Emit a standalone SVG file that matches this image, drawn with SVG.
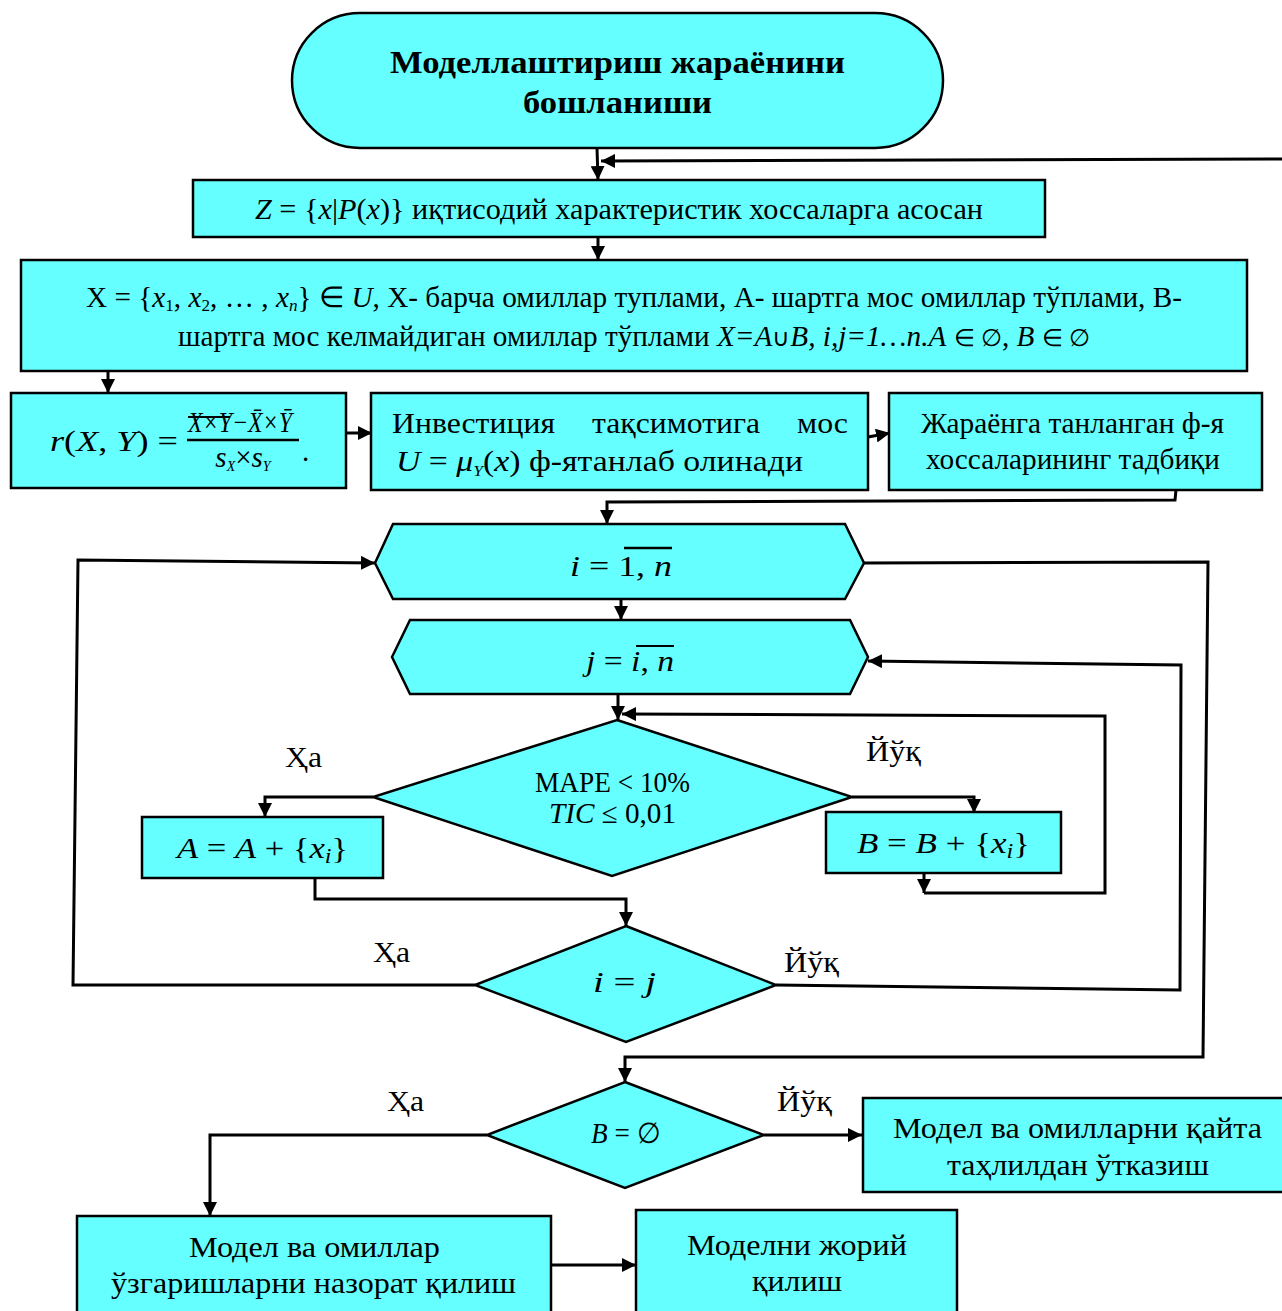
<svg xmlns="http://www.w3.org/2000/svg" width="1282" height="1311" viewBox="0 0 1282 1311">
<style>
.n{fill:#66FFFF;stroke:#000;stroke-width:2.5}
.c{fill:none;stroke:#000;stroke-width:3}
.t{font-family:"Liberation Serif",serif;font-size:29px;fill:#000}
.b{font-weight:bold;font-size:32px}
.mi{font-style:italic}
.ol{stroke:#000;stroke-width:2}
</style>
<defs>
<marker id="ah" viewBox="0 0 10 10" refX="10" refY="5" markerWidth="14" markerHeight="14" markerUnits="userSpaceOnUse" orient="auto"><path d="M0,0 L10,5 L0,10 z" fill="#000"/></marker>
</defs>
<rect width="1282" height="1311" fill="#fff"/>

<g id="connectors">
<path class="c" d="M597,148 L598,180" marker-end="url(#ah)"/>
<path class="c" d="M1282,159 L601,161" marker-end="url(#ah)"/>
<path class="c" d="M598,237 L598,260" marker-end="url(#ah)"/>
<path class="c" d="M108,371 L108,393" marker-end="url(#ah)"/>
<path class="c" d="M346,433 L372,433" marker-end="url(#ah)"/>
<path class="c" d="M868,437 L890,433" marker-end="url(#ah)"/>
<path class="c" d="M1176,490 L1175,500 L607,502 L607,524" marker-end="url(#ah)"/>
<path class="c" d="M621,599 L621,620" marker-end="url(#ah)"/>
<path class="c" d="M618,694 L618,720" marker-end="url(#ah)"/>
<path class="c" d="M373,797 L265,797 L265,817" marker-end="url(#ah)"/>
<path class="c" d="M852,797 L974,797 L974,813" marker-end="url(#ah)"/>
<path class="c" d="M315,878 L315,899 L626,899 L626,926" marker-end="url(#ah)"/>
<path class="c" d="M924,873 L924,893" marker-end="url(#ah)"/>
<path class="c" d="M924,893 L1105,893 L1105,716 L622,714" marker-end="url(#ah)"/>
<path class="c" d="M475,985 L73,985 L78,560 L375,563" marker-end="url(#ah)"/>
<path class="c" d="M776,985 L1180,990 L1181,665 L868,661" marker-end="url(#ah)"/>
<path class="c" d="M864,563 L1208,562 L1203,1057 L625,1057 L625,1082" marker-end="url(#ah)"/>
<path class="c" d="M487,1135 L210,1135 L210,1216" marker-end="url(#ah)"/>
<path class="c" d="M764,1135 L862,1135" marker-end="url(#ah)"/>
<path class="c" d="M551,1265 L636,1265" marker-end="url(#ah)"/>
</g>

<g id="start">
<rect class="n" x="292" y="13" width="651" height="135" rx="68" ry="68"/>
<text class="t b" x="390" y="73" textLength="455" lengthAdjust="spacingAndGlyphs">Моделлаштириш жараёнини</text>
<text class="t b" x="523" y="113" textLength="189" lengthAdjust="spacingAndGlyphs">бошланиши</text>
</g>

<g id="z">
<rect class="n" x="193" y="180" width="852" height="57"/>
<text class="t" x="255" y="219" font-size="26" textLength="728" lengthAdjust="spacingAndGlyphs"><tspan class="mi" font-size="29">Z</tspan> = {<tspan class="mi" font-size="29">x</tspan>|<tspan class="mi" font-size="29">P</tspan>(<tspan class="mi" font-size="29">x</tspan>)} иқтисодий характеристик хоссаларга асосан</text>
</g>

<g id="xset">
<rect class="n" x="21" y="260" width="1226" height="111"/>
<text class="t" x="86" y="307" font-size="26" textLength="1096" lengthAdjust="spacingAndGlyphs">X = {<tspan class="mi">x</tspan><tspan font-size="17" dy="4">1</tspan><tspan dy="-4">, </tspan><tspan class="mi">x</tspan><tspan font-size="17" dy="4">2</tspan><tspan dy="-4">, … , </tspan><tspan class="mi">x</tspan><tspan class="mi" font-size="17" dy="4">n</tspan><tspan dy="-4">} ∈ </tspan><tspan class="mi">U</tspan>, X- барча омиллар туплами, А- шартга мос омиллар тўплами, В-</text>
<text class="t" x="178" y="346" font-size="26" textLength="912" lengthAdjust="spacingAndGlyphs">шартга мос келмайдиган омиллар тўплами <tspan class="mi">X=A</tspan><tspan font-size="24">∪</tspan><tspan class="mi">B, i,j=1…n.A</tspan> <tspan font-size="24">∈ ∅</tspan>, <tspan class="mi">B</tspan> <tspan font-size="24">∈ ∅</tspan></text>
</g>

<g id="corr">
<rect class="n" x="11" y="393" width="335" height="95"/>
<text class="t" x="50" y="451" font-size="31" textLength="128" lengthAdjust="spacingAndGlyphs"><tspan class="mi">r</tspan>(<tspan class="mi">X</tspan>, <tspan class="mi">Y</tspan>) =</text>
<text class="t mi" x="188" y="432" font-size="19" textLength="104" lengthAdjust="spacingAndGlyphs">X×Y−X̄×Ȳ</text>
<line class="ol" x1="188" y1="417" x2="230" y2="417"/>
<line x1="187" y1="440" x2="299" y2="440" stroke="#000" stroke-width="2.5"/>
<text class="t mi" x="243" y="467" text-anchor="middle" font-size="20">s<tspan font-size="14" dy="4">X</tspan><tspan dy="-4" font-style="normal">×</tspan>s<tspan font-size="14" dy="4">Y</tspan></text>
<text class="t" x="302" y="461" font-size="20">.</text>
</g>

<g id="invest">
<rect class="n" x="371" y="393" width="497" height="97"/>
<text class="t" x="392" y="433" textLength="163" lengthAdjust="spacingAndGlyphs">Инвестиция</text>
<text class="t" x="592" y="433" textLength="168" lengthAdjust="spacingAndGlyphs">тақсимотига</text>
<text class="t" x="797" y="433" textLength="51" lengthAdjust="spacingAndGlyphs">мос</text>
<text class="t" x="396" y="471" textLength="407" lengthAdjust="spacingAndGlyphs"><tspan class="mi">U</tspan> = <tspan class="mi">μ</tspan><tspan class="mi" font-size="15" dy="5">Y</tspan><tspan dy="-5">(</tspan><tspan class="mi">x</tspan>) ф-ятанлаб олинади</text>
</g>

<g id="apply">
<rect class="n" x="889" y="393" width="373" height="97"/>
<text class="t" x="921" y="433" textLength="303" lengthAdjust="spacingAndGlyphs">Жараёнга танланган ф-я</text>
<text class="t" x="926" y="469" textLength="294" lengthAdjust="spacingAndGlyphs">хоссаларининг тадбиқи</text>
</g>

<g id="loopi">
<polygon class="n" points="375,563 393,524 845,524 864,563 845,599 393,599"/>
<text class="t" x="570" y="576" font-size="31" textLength="102" lengthAdjust="spacingAndGlyphs"><tspan class="mi">i</tspan> = 1, <tspan class="mi">n</tspan></text>
<line x1="624" y1="548" x2="672" y2="548" stroke="#000" stroke-width="2.5"/>
</g>

<g id="loopj">
<polygon class="n" points="392,657 410,620 850,620 868,657 850,694 410,694"/>
<text class="t" x="586" y="671" font-size="29" textLength="88" lengthAdjust="spacingAndGlyphs"><tspan class="mi">j</tspan> = <tspan class="mi">i</tspan>, <tspan class="mi">n</tspan></text>
<line x1="636" y1="646" x2="674" y2="646" stroke="#000" stroke-width="2"/>
</g>

<g id="mape">
<polygon class="n" points="617,720 852,797 612,876 373,797"/>
<text class="t" x="535" y="792" font-size="25" textLength="155" lengthAdjust="spacingAndGlyphs">MAPE &lt; 10%</text>
<text class="t" x="549" y="823" font-size="25" textLength="127" lengthAdjust="spacingAndGlyphs"><tspan class="mi">TIC</tspan> ≤ 0,01</text>
</g>

<g id="boxA">
<rect class="n" x="142" y="817" width="241" height="61"/>
<text class="t" x="177" y="858" font-size="30" textLength="171" lengthAdjust="spacingAndGlyphs"><tspan class="mi">A</tspan> = <tspan class="mi">A</tspan> + {<tspan class="mi">x</tspan><tspan class="mi" font-size="20" dy="5">i</tspan><tspan dy="-5">}</tspan></text>
</g>

<g id="boxB">
<rect class="n" x="826" y="812" width="235" height="61"/>
<text class="t" x="857" y="853" font-size="30" textLength="173" lengthAdjust="spacingAndGlyphs"><tspan class="mi">B</tspan> = <tspan class="mi">B</tspan> + {<tspan class="mi">x</tspan><tspan class="mi" font-size="20" dy="5">i</tspan><tspan dy="-5">}</tspan></text>
</g>

<g id="ieqj">
<polygon class="n" points="626,926 776,985 626,1042 475,985"/>
<text class="t" x="593" y="992" font-size="31" textLength="63" lengthAdjust="spacingAndGlyphs"><tspan class="mi">i</tspan> = <tspan class="mi">j</tspan></text>
</g>

<g id="bempty">
<polygon class="n" points="625,1082 764,1135 625,1188 487,1135"/>
<text class="t" x="591" y="1143" font-size="24" textLength="69" lengthAdjust="spacingAndGlyphs"><tspan class="mi">B</tspan> = ∅</text>
</g>

<g id="reanalyze">
<rect class="n" x="863" y="1098" width="425" height="94"/>
<text class="t" x="893" y="1138" font-size="30" textLength="369" lengthAdjust="spacingAndGlyphs">Модел ва омилларни қайта</text>
<text class="t" x="947" y="1175" font-size="30" textLength="262" lengthAdjust="spacingAndGlyphs">таҳлилдан ўтказиш</text>
</g>

<g id="control">
<rect class="n" x="77" y="1216" width="474" height="100"/>
<text class="t" x="189" y="1257" font-size="30" textLength="251" lengthAdjust="spacingAndGlyphs">Модел ва омиллар</text>
<text class="t" x="111" y="1293" font-size="30" textLength="405" lengthAdjust="spacingAndGlyphs">ўзгаришларни назорат қилиш</text>
</g>

<g id="deploy">
<rect class="n" x="636" y="1210" width="321" height="106"/>
<text class="t" x="687" y="1255" font-size="30" textLength="220" lengthAdjust="spacingAndGlyphs">Моделни жорий</text>
<text class="t" x="752" y="1291" font-size="30" textLength="90" lengthAdjust="spacingAndGlyphs">қилиш</text>
</g>

<g id="labels">
<text class="t" x="285" y="767" textLength="37" lengthAdjust="spacingAndGlyphs">Ҳа</text>
<text class="t" x="866" y="761" textLength="55" lengthAdjust="spacingAndGlyphs">Йўқ</text>
<text class="t" x="373" y="962" textLength="37" lengthAdjust="spacingAndGlyphs">Ҳа</text>
<text class="t" x="784" y="972" textLength="55" lengthAdjust="spacingAndGlyphs">Йўқ</text>
<text class="t" x="387" y="1111" textLength="37" lengthAdjust="spacingAndGlyphs">Ҳа</text>
<text class="t" x="777" y="1111" textLength="55" lengthAdjust="spacingAndGlyphs">Йўқ</text>
</g>
</svg>
